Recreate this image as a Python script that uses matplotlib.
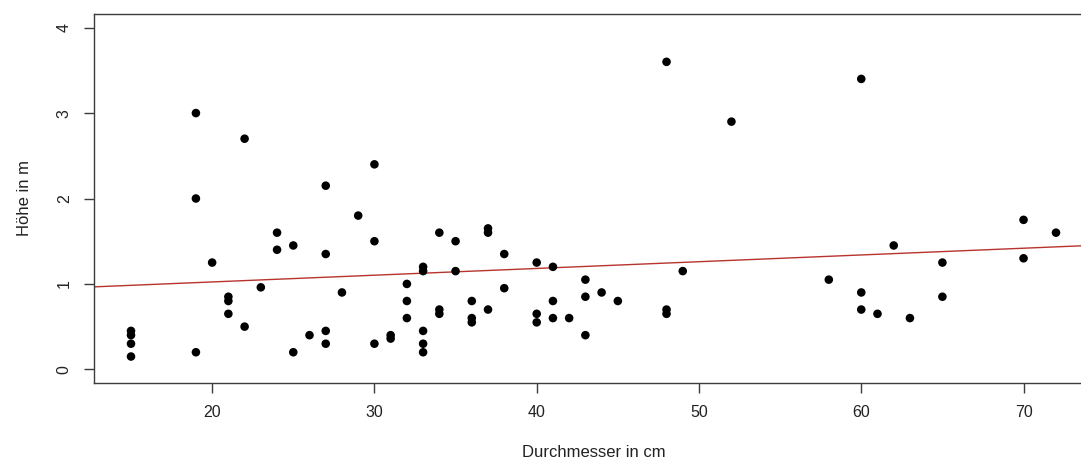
import matplotlib.pyplot as plt
import numpy as np

plt.rcParams['font.family'] = ['Liberation Sans', 'DejaVu Sans']

# Durchmesser (cm) und Höhe (m)
durchmesser = [15, 15, 15, 15, 19, 19, 19, 20, 21, 21, 21, 22, 22, 23,
               24, 24, 25, 25, 26, 27, 27, 27, 27, 28, 29, 30, 30, 30,
               31, 31, 32, 32, 32, 33, 33, 33, 33, 33, 34, 34, 34, 35,
               35, 36, 36, 36, 37, 37, 37, 38, 38, 40, 40, 40, 41, 41,
               41, 42, 43, 43, 43, 44, 45, 48, 48, 48, 49, 52, 58, 60,
               60, 60, 61, 62, 63, 65, 65, 70, 70, 72]
hoehe = [0.45, 0.4, 0.3, 0.15, 3.0, 2.0, 0.2, 1.25, 0.85, 0.8, 0.65, 2.7, 0.5, 0.96,
         1.6, 1.4, 1.45, 0.2, 0.4, 2.15, 1.35, 0.45, 0.3, 0.9, 1.8, 2.4, 1.5, 0.3,
         0.4, 0.36, 1.0, 0.8, 0.6, 1.2, 1.15, 0.45, 0.3, 0.2, 1.6, 0.7, 0.65, 1.5,
         1.15, 0.8, 0.6, 0.55, 1.65, 1.6, 0.7, 1.35, 0.95, 1.25, 0.65, 0.55, 1.2, 0.8,
         0.6, 0.6, 1.05, 0.85, 0.4, 0.9, 0.8, 3.6, 0.7, 0.65, 1.15, 2.9, 1.05, 3.4,
         0.9, 0.7, 0.65, 1.45, 0.6, 1.25, 0.85, 1.75, 1.3, 1.6]

# Regressionsgerade (abline)
fit_intercept = 0.865
fit_slope = 0.0079

x_ticks = [20, 30, 40, 50, 60, 70]
y_ticks = [0, 1, 2, 3, 4]

x = np.array(durchmesser)
y = np.array(hoehe)

W, H = 1081, 466
fig = plt.figure(figsize=(W / 100, H / 100), dpi=100)
ax = fig.add_axes([94 / W, (H - 383) / H, (1093 - 94) / W, (383 - 14) / H])

ax.scatter(x, y, s=38, c='black', edgecolors='none', zorder=3)
ax.axline((0, fit_intercept), slope=fit_slope, color='#b8332e', lw=1, zorder=2)

rng = x.max() - x.min()
ax.set_xlim(x.min() - 0.04 * rng, x.max() + 0.04 * rng)
ax.set_ylim(-0.16, 4.16)
ax.set_xticks(x_ticks)
ax.set_yticks(y_ticks)

for sp in ax.spines.values():
    sp.set_color('#3c3c3c')
    sp.set_linewidth(1)
ax.tick_params(length=7, width=1, color='#3c3c3c', labelsize=11.5, pad=9,
               labelcolor='#222222')
for lab in ax.get_yticklabels():
    lab.set_rotation(90)
    lab.set_va('center')

ax.set_xlabel('Durchmesser in cm', fontsize=12, color='#222222', labelpad=18)
ax.set_ylabel('Höhe in m', fontsize=12, color='#222222', labelpad=18)

fig.savefig('out.png', dpi=100)
